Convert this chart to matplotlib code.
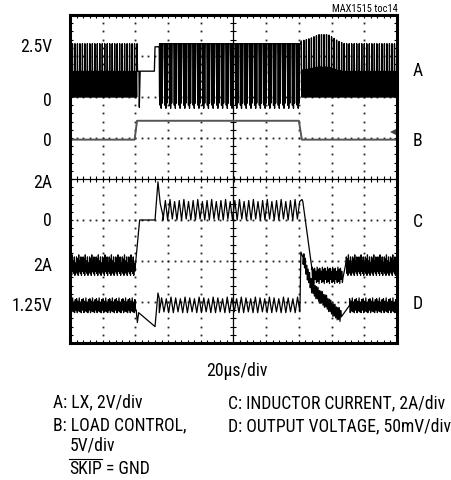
import numpy as np
import matplotlib.pyplot as plt
from matplotlib import font_manager
from matplotlib.transforms import IdentityTransform
from matplotlib.lines import Line2D

W, H = 452, 480
US_PER_DIV = 20.0

# narrow sans for the Maxim-style labels, first one that is installed
installed = {f.name for f in font_manager.fontManager.ttflist}
wanted = ["Liberation Sans Narrow", "Arial Narrow", "Roboto Condensed", "Archivo Narrow",
          "PT Sans Narrow", "Open Sans Condensed", "Fira Sans Condensed",
          "IBM Plex Sans Condensed", "Encode Sans Condensed", "Asap Condensed",
          "Barlow Semi Condensed", "Pragati Narrow"]
narrow = [n for n in wanted if n in installed][:1]
plt.rcParams["font.family"] = narrow + ["DejaVu Sans"]

# scope channel settings: zero position (div from bottom), units per div
A_ZERO, A_SCALE = 6.0, 2.0     # LX, V
B_ZERO, B_SCALE = 4.96, 5.0    # load control, V
C_ZERO, C_SCALE = 3.0, 2.0     # inductor current, A
D_ZERO, D_SCALE = 0.92, 50.0   # output voltage, mV around 1.25V

# B: load control (us, V)
b_t = [0, 39.5, 41.0, 140.0, 141.8, 200]
b_v = [0, 0, 2.3, 2.3, 0, 0]

# repeating switching cells
a_idle_cell = [2.6, 0.0, 1.2, 0.0, 1.25, 0.0]
a_load_cell = [2.6, -0.4, 2.6, -0.55, 2.6, -0.3, 2.6, 2.6, 2.6]
c_idle_cell = [-1.8, -2.6, -1.9, -2.7, -1.7, -2.5, -2.0, -2.6, -1.8, -2.7, -2.1, -2.5]
c_load_cell = [0.0, 0.95, 0.0, 1.0, 0.05, 0.9]
c_dip_cell = [-2.3, -3.0, -2.4, -3.1, -2.35, -2.9, -2.5, -3.05]
d_idle_cell = [8, -9, 5, -7, 9, -8, 4, -9, 7, -6]
d_load_cell = [-9, 9, -8, 8, -9, 10]
d_rel_cell = [-8, 8, -6, 9, -7, 7]

# A: LX (us, V)
a_step_t = [41.0, 41.3, 42.2, 42.4, 42.9, 51.6, 52.0, 54.6, 54.8]
a_step_v = [2.6, 1.26, 1.26, -0.5, 1.26, 1.26, 2.45, 2.45, 0.0]
a_bump_t = [141.5, 147, 152, 158, 164, 168, 200]
a_bump_k = [1.05, 1.1, 1.17, 1.17, 1.05, 1.0, 1.0]

# C: inductor current (us, A)
c_step_t = [40.0, 42.6, 52.0, 53.8, 55.2, 56.9]
c_step_v = [-2.2, 0.0, 0.0, 1.86, 0.8, 0.2]
c_rel_t = [141.9, 142.4, 148.0]
c_rel_v = [1.0, 0.9, -2.4]
c_rec_t = [167.0, 169.0]
c_rec_v = [-2.8, -2.0]

# D: output voltage deviation (us, mV)
d_step_t = [40.5, 41.2, 42.0, 52.0, 53.8, 54.6]
d_step_v = [-6, -21, -9, -26, 15, 8]
d_rel_t = [140.6, 141.2, 141.8, 142.6]
d_rel_v = [-8, 65, 62, 58]
d_decay_t = [142.6, 145, 148, 152, 157, 161, 166]
d_decay_v = [58, 40, 22, 12, 3, -6, -14]
d_rec_t = [166.0, 171.0]
d_rec_v = [-14, 0]


def tile(t0, t1, cell, n, env_t=None, env_v=None, mult=False):
    vals = np.tile(np.asarray(cell, float), n)
    t = np.linspace(t0, t1, len(vals), endpoint=False)
    if env_t is not None:
        e = np.interp(t, env_t, env_v)
        vals = vals * e if mult else vals + e
    return t, vals


def join(parts):
    t = np.concatenate([np.asarray(p[0], float) for p in parts])
    v = np.concatenate([np.asarray(p[1], float) for p in parts])
    return t, v


a_t, a_v = join([
    tile(0, 41.0, a_idle_cell, 27),
    (a_step_t, a_step_v),
    tile(54.8, 141.5, a_load_cell, 30),
    tile(141.5, 200, a_idle_cell, 38, a_bump_t, a_bump_k, mult=True),
])
c_t, c_v = join([
    tile(0, 40.0, c_idle_cell, 10),
    (c_step_t, c_step_v),
    tile(56.9, 141.9, c_load_cell, 10),
    (c_rel_t, c_rel_v),
    tile(148.0, 167.0, c_dip_cell, 6),
    (c_rec_t, c_rec_v),
    tile(169.0, 200, c_idle_cell, 8),
])
d_t, d_v = join([
    tile(0, 40.5, d_idle_cell, 10),
    (d_step_t, d_step_v),
    tile(54.6, 140.6, d_load_cell, 10),
    (d_rel_t, d_rel_v),
    tile(142.6, 166.0, d_rel_cell, 9, d_decay_t, d_decay_v),
    (d_rec_t, d_rec_v),
    tile(171.0, 200, d_idle_cell, 7),
])

fig = plt.figure(figsize=(W / 100, H / 100), dpi=100)
ax = fig.add_axes([70 / W, 1 - 343 / H, 327 / W, 328 / H])
ax.set_xlim(0, 10)
ax.set_ylim(0, 8)

# graticule
for gx in range(1, 10):
    if gx == 5:
        continue
    ys = np.arange(0.2, 8, 0.2)
    ax.plot(np.full_like(ys, gx), ys, ls="none", marker="s", ms=1.3, mew=0, color="#222")
for gy in range(1, 8):
    if gy == 4:
        continue
    xs = np.arange(0.2, 10, 0.2)
    ax.plot(xs, np.full_like(xs, gy), ls="none", marker="s", ms=1.3, mew=0, color="#222")
ax.axhline(4, color="black", lw=0.9)
ax.axvline(5, color="black", lw=0.9)
xs = np.arange(0.2, 10, 0.2)
ax.plot(xs, np.full_like(xs, 4), ls="none", marker="|", ms=4.5, mew=0.8, color="black")
ys = np.arange(0.2, 8, 0.2)
ax.plot(np.full_like(ys, 5), ys, ls="none", marker="_", ms=4.5, mew=0.8, color="black")

ax.set_xticks(np.arange(0, 10.01, 0.2))
ax.set_yticks(np.arange(0, 8.01, 0.2))
ax.tick_params(direction="in", length=2.5, width=0.8, top=True, right=True,
               labelbottom=False, labelleft=False)
for s in ax.spines.values():
    s.set_linewidth(2.2)

# traces
ax.plot(np.asarray(b_t) / US_PER_DIV, B_ZERO + np.asarray(b_v) / B_SCALE, color="#555", lw=1.4)
ax.plot(a_t / US_PER_DIV, A_ZERO + a_v / A_SCALE, color="black", lw=0.95)
ax.plot(c_t / US_PER_DIV, C_ZERO + c_v / C_SCALE, color="black", lw=0.9)
ax.plot(d_t / US_PER_DIV, D_ZERO + d_v / D_SCALE, color="black", lw=0.9)
ax.plot([9.9], [5.15], marker="<", ms=6, mew=0, color="#444", clip_on=False, ls="none")

# channel labels
fs = 12.7
ytr = ax.get_yaxis_transform()
left_labels = ["2.5V", "0", "0", "2A", "0", "2A", "1.25V"]
left_y = [7.23, 5.91, 4.93, 3.9, 2.98, 1.88, 0.9]
for s, y in zip(left_labels, left_y):
    ax.text(-18 / 327, y, s, transform=ytr, ha="right", va="center", fontsize=fs)
right_labels = ["A", "B", "C", "D"]
right_y = [6.63, 4.93, 2.95, 0.95]
for s, y in zip(right_labels, right_y):
    ax.text(1 + 16 / 327, y, s, transform=ytr, ha="left", va="center", fontsize=fs)


def px(x, y):
    return x / W, 1 - y / H


fig.text(*px(398, 8.5), "MAX1515 toc14", ha="right", va="center", fontsize=7.5)
fig.text(*px(237, 371), "20\u03bcs/div", ha="center", va="center", fontsize=fs)
fig.text(*px(53, 402), "A: LX, 2V/div", ha="left", va="center", fontsize=fs)
fig.text(*px(53, 425), "B: LOAD CONTROL,", ha="left", va="center", fontsize=fs)
fig.text(*px(70, 446), "5V/div", ha="left", va="center", fontsize=fs)
fig.text(*px(228, 403), "C: INDUCTOR CURRENT, 2A/div", ha="left", va="center", fontsize=fs)
fig.text(*px(228, 426), "D: OUTPUT VOLTAGE, 50mV/div", ha="left", va="center", fontsize=fs)
skip = fig.text(*px(69, 469), "SKIP", ha="left", va="center", fontsize=fs)
fig.canvas.draw()
bb = skip.get_window_extent()
fig.text(bb.x1 / W, 1 - 469 / H, " = GND", ha="left", va="center", fontsize=fs)
fig.add_artist(Line2D([bb.x0, bb.x1], [bb.y1 + 1, bb.y1 + 1], transform=IdentityTransform(),
                      color="black", lw=0.8))

fig.savefig("out.png", dpi=100)
